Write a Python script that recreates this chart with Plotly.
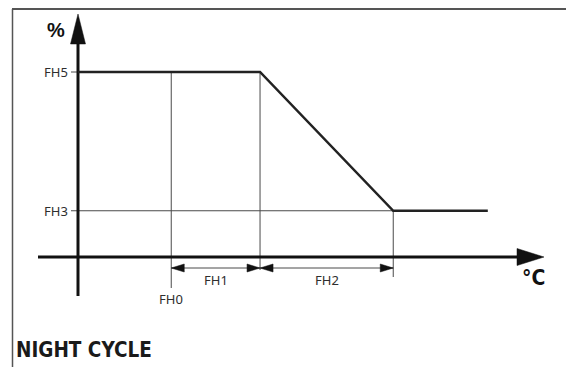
import plotly.graph_objects as go

# set-points (schematic units): temperature steps and output levels
fh0 = 2.1          # start of the night band
fh1 = 2.0          # width of the flat part after FH0
fh2 = 3.0          # width of the ramp
t_end = 9.23       # where the curve stops
fh5 = 100          # max level %
fh3 = 25           # min level %

curve_x = [0, fh0 + fh1, fh0 + fh1 + fh2, t_end]
curve_y = [fh5, fh5, fh3, fh3]

W, H = 574, 367
OFF = 8                          # page body margin in the browser
X0_PX, Y0_PX = 78 - OFF, 257 - OFF   # origin inside the figure
PX_X, PX_Y = 44.4, 1.85          # pixels per unit


def px(dx):
    return dx / PX_X


def py(dy):
    return dy / PX_Y


def gx(page_x):
    return (page_x - OFF - X0_PX) / PX_X


def gy(page_y):
    return (Y0_PX - (page_y - OFF)) / PX_Y


xr = [-X0_PX / PX_X, (W - X0_PX) / PX_X]
yr = [(Y0_PX - H) / PX_Y, Y0_PX / PX_Y]

AX = "#111111"
GUIDE = "#4a4a4a"
LBL = dict(family="Noto Sans", size=13, color="#2e2e2e")
BOLD = "DejaVu Sans Condensed"

fig = go.Figure()


def line(x, y, color, width):
    fig.add_trace(go.Scatter(x=x, y=y, mode="lines", line=dict(color=color, width=width),
                             hoverinfo="skip", showlegend=False))


def tri(x, y):
    fig.add_trace(go.Scatter(x=x + [x[0]], y=y + [y[0]], mode="lines", fill="toself",
                             fillcolor=AX, line=dict(color=AX, width=0.5),
                             hoverinfo="skip", showlegend=False))


# frame
line([gx(12), xr[1]], [yr[1] - py(1)] * 2, "#555555", 2)
line([gx(12.5)] * 2, [yr[1] - py(1), yr[0]], "#555555", 1.5)

# guides
t1 = fh0 + fh1
t2 = fh0 + fh1 + fh2
dim_y = -py(11)
line([fh0, fh0], [fh5, -py(31)], GUIDE, 1)
line([t1, t1], [fh5, -py(13)], GUIDE, 1)
line([t2, t2], [fh3, -py(20)], GUIDE, 1)
line([-px(7), t2], [fh3, fh3], GUIDE, 1)
line([-px(7), 0], [fh5, fh5], GUIDE, 1)

# dimension lines
line([fh0, t2], [dim_y, dim_y], GUIDE, 1)
ah, aw = px(13), py(4)
tri([fh0, fh0 + ah, fh0 + ah], [dim_y, dim_y + aw, dim_y - aw])
tri([t1, t1 - ah, t1 - ah], [dim_y, dim_y + aw, dim_y - aw])
tri([t1, t1 + ah, t1 + ah], [dim_y, dim_y + aw, dim_y - aw])
tri([t2, t2 - ah, t2 - ah], [dim_y, dim_y + aw, dim_y - aw])

# axes
line([gx(38), gx(518)], [0, 0], AX, 3)
tri([gx(544), gx(517), gx(517)], [0, py(8.5), -py(8.5)])
line([0, 0], [gy(296), gy(42)], AX, 3)
tri([0, -px(7.5), px(7.5)], [gy(14), gy(44), gy(44)])

# curve
line(curve_x, curve_y, "#222222", 2.5)

ann = [
    dict(x=-px(8), y=fh5, text="FH5", xanchor="right", font=LBL),
    dict(x=-px(8), y=fh3, text="FH3", xanchor="right", font=LBL),
    dict(x=fh0, y=-py(42), text="FH0", font=LBL),
    dict(x=(fh0 + t1) / 2, y=-py(23), text="FH1", font=LBL),
    dict(x=(t1 + t2) / 2, y=-py(23), text="FH2", font=LBL),
    dict(x=gx(56), y=gy(30), text="<b>%</b>",
         font=dict(family="Liberation Sans", size=20, color="#111111")),
    dict(x=gx(533), y=gy(278), text="<b>°C</b>",
         font=dict(family=BOLD, size=21, color="#111111")),
]
for a in ann:
    a.update(showarrow=False, xref="x", yref="y")
    fig.add_annotation(**a)

fig.add_annotation(x=(14 - OFF) / W, y=1 - (350 - OFF) / H, xref="paper", yref="paper",
                   xanchor="left", yanchor="middle", showarrow=False,
                   text="<b>NIGHT CYCLE</b>",
                   font=dict(family=BOLD, size=20.5, color="#1a1a1a"))

fig.update_xaxes(range=xr, visible=False, fixedrange=True)
fig.update_yaxes(range=yr, visible=False, fixedrange=True)
fig.update_layout(width=W, height=H, margin=dict(l=0, r=0, t=0, b=0),
                  plot_bgcolor="white", paper_bgcolor="white")

fig.write_html("out.html")
